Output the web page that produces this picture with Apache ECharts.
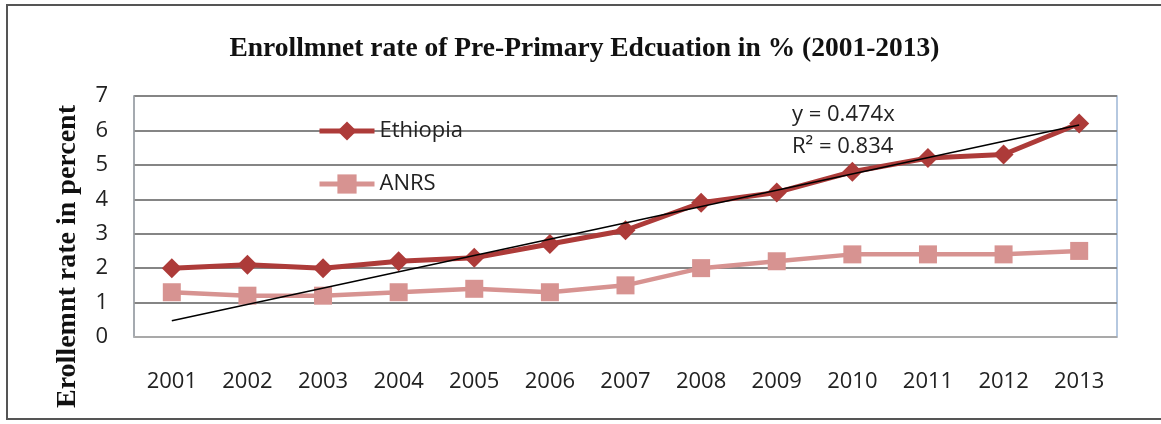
<!DOCTYPE html>
<html>
<head>
<meta charset="utf-8">
<script src="https://cdn.jsdelivr.net/npm/echarts@6/dist/echarts.min.js"></script>
<style>
  html, body { margin: 0; padding: 0; background: #fff; }
  #chart {
    position: absolute; left: 6px; top: 4px;
    width: 1155px; height: 416px;
    border-left: 2px solid #555; border-top: 2px solid #555; border-bottom: 2px solid #555;
    box-sizing: border-box;
  }
</style>
</head>
<body>
<div id="chart"></div>
<script>
const years = ['2001', '2002', '2003', '2004', '2005', '2006', '2007', '2008', '2009', '2010', '2011', '2012', '2013']
const ethiopia = [2.0, 2.1, 2.0, 2.2, 2.3, 2.7, 3.1, 3.9, 4.2, 4.8, 5.2, 5.3, 6.2]
const anrs = [1.3, 1.2, 1.2, 1.3, 1.4, 1.3, 1.5, 2.0, 2.2, 2.4, 2.4, 2.4, 2.5]
// linear trend (y = 0.474x) end points
const trendStart = 0.474
const trendEnd = 6.16
const yTicks = [0, 1, 2, 3, 4, 5, 6, 7]

const sans = '"Open Sans", sans-serif'
const serif = '"Liberation Serif", serif'

const myChart = echarts.init(document.getElementById('chart'))

const option = {
  backgroundColor: '#fff',
  animation: false,
  title: {
    text: 'Enrollmnet rate of Pre-Primary Edcuation in % (2001-2013)',
    left: 'center',
    top: 24,
    textStyle: { fontFamily: serif, fontWeight: 'bold', fontSize: 27.5, color: '#111' }
  },
  grid: {
    left: 126, right: 44, top: 90, bottom: 81,
    show: true,
    borderColor: '#9db6d6',
    borderWidth: 1.5,
    backgroundColor: 'transparent'
  },
  legend: {
    orient: 'vertical',
    left: 304,
    top: 109,
    itemGap: 31,
    itemWidth: 55,
    itemHeight: 24,
    lineStyle: { width: 5 },
    textStyle: { fontFamily: sans, fontSize: 22, color: '#222' },
    data: ['Ethiopia', 'ANRS']
  },
  graphic: [
    {
      type: 'text',
      left: 46, top: 99,
      rotation: Math.PI / 2,
      style: {
        text: 'Erollemnt rate in percent',
        fontFamily: serif, fontWeight: 'bold', fontSize: 28, fill: '#111'
      }
    },
    {
      type: 'text', left: 784, top: 98,
      style: { text: 'y = 0.474x', fontFamily: sans, fontSize: 22, fill: '#222' }
    },
    {
      type: 'text', left: 784, top: 130,
      style: { text: 'R² = 0.834', fontFamily: sans, fontSize: 22, fill: '#222' }
    }
  ],
  xAxis: {
    type: 'category',
    data: years,
    boundaryGap: true,
    axisLine: { lineStyle: { color: '#b5b5b5', width: 1.5 } },
    axisTick: { show: false },
    axisLabel: { fontFamily: sans, fontSize: 22, color: '#222', margin: 34 }
  },
  yAxis: {
    type: 'value',
    min: yTicks[0],
    max: yTicks[yTicks.length - 1],
    interval: 1,
    axisLine: { show: true, lineStyle: { color: '#a0a0a0', width: 1.5 } },
    axisTick: { show: false },
    axisLabel: { fontFamily: sans, fontSize: 22, color: '#222', margin: 26 },
    splitLine: { lineStyle: { color: '#858585', width: 2 } }
  },
  series: [
    {
      name: 'Ethiopia',
      type: 'line',
      data: ethiopia,
      symbol: 'diamond',
      symbolSize: [20, 20],
      color: '#ad3b39',
      lineStyle: { color: '#ad3b39', width: 5 },
      itemStyle: { color: '#ad3b39' },
      z: 3,
      markLine: {
        silent: true,
        symbol: 'none',
        label: { show: false },
        lineStyle: { color: '#000', width: 1.5, type: 'solid' },
        z: 5,
        data: [[
          { coord: [years[0], trendStart] },
          { coord: [years[years.length - 1], trendEnd] }
        ]]
      }
    },
    {
      name: 'ANRS',
      type: 'line',
      data: anrs,
      symbol: 'rect',
      symbolSize: 18,
      color: '#d79391',
      lineStyle: { color: '#d79391', width: 4.5 },
      itemStyle: { color: '#d79391' },
      z: 2
    }
  ]
}

myChart.setOption(option)
window.addEventListener('resize', () => myChart.resize())
</script>
</body>
</html>
